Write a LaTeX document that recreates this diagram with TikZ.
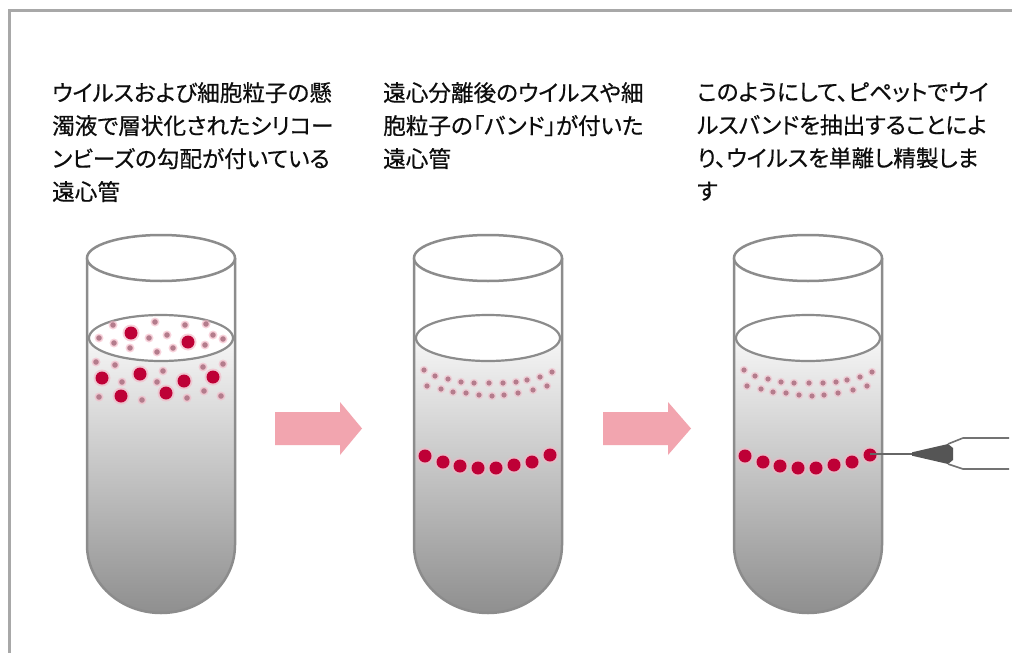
\documentclass[tikz,border=0pt]{standalone}
\usepackage{fontspec}
\newfontfamily\jp{Noto Sans CJK JP}[RawFeature=+palt,FakeBold=0.5]
\definecolor{framegray}{HTML}{A8A8A8}
\definecolor{tubeline}{HTML}{8C8C8C}
\definecolor{liqtop}{HTML}{F6F6F6}
\definecolor{liqmid}{HTML}{D4D4D4}
\definecolor{liqbot}{HTML}{8F8F8F}
\definecolor{bigdot}{HTML}{BE0036}
\definecolor{smalldot}{HTML}{B47C8C}
\definecolor{halo}{HTML}{F4B4C4}
\definecolor{arrowpink}{HTML}{F2A5AF}
\definecolor{tipgray}{HTML}{555555}
\begin{document}
\begin{tikzpicture}[x=1pt,y=-1pt,
  caption/.style={anchor=north west,inner sep=0pt,align=left,
    font=\jp\fontsize{22.6}{33}\selectfont,text=black!95},
  tubeedge/.style={draw=tubeline,line width=2.5pt},
  arrowshape/.style={fill=arrowpink,draw=none},
  pipe/.style={draw=black!55,line width=1.6pt}]
\useasboundingbox (0,0) rectangle (1012,653);
\fill[white] (0,0) rectangle (1012,653);

% outer frame (top and left edges)
\draw[framegray,line width=3pt] (9,653) -- (9,10) -- (1012,10);

% captions
\node[caption] (cap1) at (52,82) {ウイルスおよび細胞粒子の懸\\濁液で層状化されたシリコー\\ンビーズの勾配が付いている\\遠心管};
\node[caption] (cap2) at (383,82) {遠心分離後のウイルスや細\\胞粒子の「バンド」が付いた\\遠心管};
\node[caption] (cap3) at (697,82) {このようにして、ピペットでウイ\\ルスバンドを抽出することによ\\り、ウイルスを単離し精製しま\\す};

% three centrifuge tubes
\foreach \cx/\nm in {161/tubeA,488/tubeB,808/tubeC}{
  \shade[top color=liqtop,middle color=liqmid,bottom color=liqbot]
    (\cx-74,338) -- (\cx-74,545) arc[start angle=180,end angle=0,x radius=74,y radius=68]
    -- (\cx+74,338) -- cycle;
  \filldraw[fill=white,draw=tubeline,line width=2.2pt] (\cx,338) ellipse[x radius=72,y radius=23];
  \draw[tubeedge] (\cx-74,258) -- (\cx-74,545) arc[start angle=180,end angle=0,x radius=74,y radius=68] -- (\cx+74,258);
  \filldraw[fill=white,tubeedge] (\cx,258) ellipse[x radius=74,y radius=23];
  \coordinate (\nm) at (\cx,258);
}

% tube 1: mixed suspension of particles
\foreach \x/\y in {113/325,155/322,185/325,206/324,99/338,114/343,149/338,167/335,213/335,223/339,
  130/348,157/352,173/348,205/345,96/362,115/365,163/371,203/367,223/364,122/382,157/382,
  99/397,142/400,187/398,204/391,221/396}{
  \fill[halo,opacity=0.6] (\x,\y) circle[radius=4.5];
  \fill[smalldot] (\x,\y) circle[radius=2.8];
}
\foreach \x/\y in {131/333,188/342,102/378,140/374,184/381,213/377,121/396,166/393}{
  \fill[halo,opacity=0.6] (\x,\y) circle[radius=8.5];
  \fill[bigdot] (\x,\y) circle[radius=6.5];
}

% tubes 2 and 3: separated bands
\foreach \s in {0,320}{
  \foreach \x/\y in {424/370,435/376,448/379,461/382,474/383,489/383,503/383,516/382,527/380,540/377,552/372,
    427/386,441/389,453/392,466/393,479/395,492/396,504/395,518/393,533/390,547/386}{
    \fill[halo,opacity=0.5] (\x+\s,\y) circle[radius=4.2];
    \fill[smalldot] (\x+\s,\y) circle[radius=2.6];
  }
  \foreach \x/\y in {425/456,443/462,460/466,478/468,496/468,514/465,532/462,550/455}{
    \fill[halo,opacity=0.6] (\x+\s,\y) circle[radius=8.5];
    \fill[bigdot] (\x+\s,\y) circle[radius=6.5];
  }
}

% process arrows
\fill[arrowshape] (275,412) -- (340,412) -- (340,402) -- (362,428.5) -- (340,455) -- (340,445) -- (275,445) -- cycle;
\fill[arrowshape] (603,412) -- (668,412) -- (668,402) -- (691,428.5) -- (668,455) -- (668,445) -- (603,445) -- cycle;

% pipette drawing off the virus band
\coordinate (band) at (870,454);
\coordinate (tip) at (913,454);
\coordinate (coneU) at (948,444);
\coordinate (coneL) at (948,464);
\draw[draw=black!60,line width=1.4pt] (band) -- (tip);
\fill[tipgray] (912,452.3) -- (coneU) -- (953,448) -- (953,460) -- (coneL) -- (912,455.7) -- cycle;
\draw[pipe,line join=round] (coneU) -- (963,438) -- (1009,438);
\draw[pipe,line join=round] (coneL) -- (963,469) -- (1009,469);
\end{tikzpicture}
\end{document}
